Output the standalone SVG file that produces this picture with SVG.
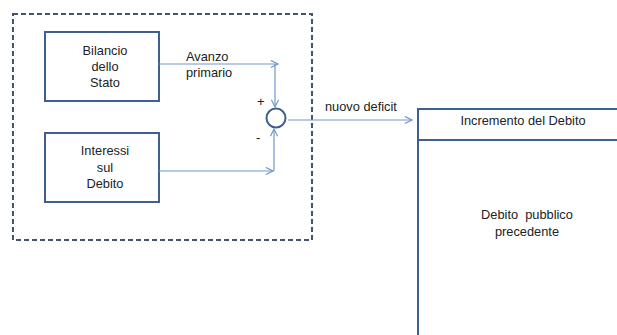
<svg xmlns="http://www.w3.org/2000/svg" width="617" height="335" viewBox="0 0 617 335">
<defs>
<style>
text{font-family:"Liberation Sans",Arial,sans-serif;font-size:12.8px;fill:#222}
.box{fill:#fff;stroke:#3F5F8F;stroke-width:2}
.conn{fill:none;stroke:#7397CB;stroke-width:1.2}
.c{text-anchor:middle}
</style>
<marker id="arr" viewBox="0 0 10 10" refX="9" refY="5" markerWidth="9" markerHeight="9" markerUnits="userSpaceOnUse" orient="auto">
<path d="M1,1 L9,5 L1,9" fill="none" stroke="#7397CB" stroke-width="1.3"/>
</marker>
</defs>
<rect x="0" y="0" width="617" height="335" fill="#fff"/>
<g id="frame">
<rect x="13" y="14" width="299" height="226" fill="none" stroke="#44546A" stroke-width="2" stroke-dasharray="5,3"/>
</g>
<g id="node-bilancio">
<rect class="box" x="45" y="32" width="114" height="69"/>
<text class="c" x="105" y="55">Bilancio</text>
<text class="c" x="105" y="71">dello</text>
<text class="c" x="105" y="87">Stato</text>
</g>
<g id="node-interessi">
<rect class="box" x="45" y="133" width="114" height="69"/>
<text class="c" x="105" y="155">Interessi</text>
<text class="c" x="105" y="172">sul</text>
<text class="c" x="105" y="188">Debito</text>
</g>
<g id="node-sum">
<circle cx="276" cy="118" r="9.5" fill="#fff" stroke="#3F5F8F" stroke-width="2"/>
<text x="257" y="106" style="font-size:13px">+</text>
<text x="256" y="142" style="font-size:13px">-</text>
</g>
<g id="node-debito">
<rect class="box" x="418" y="109" width="220" height="240"/>
<line x1="418" y1="140" x2="617" y2="140" stroke="#3F5F8F" stroke-width="2"/>
<text class="c" x="523" y="125">Incremento del Debito</text>
<text class="c" x="527" y="219" xml:space="preserve">Debito  pubblico</text>
<text class="c" x="527" y="236">precedente</text>
</g>
<g id="connectors">
<path class="conn" d="M159,64 H278" marker-end="url(#arr)"/>
<path class="conn" d="M275,64 V107" marker-end="url(#arr)"/>
<path class="conn" d="M159,171 H273" marker-end="url(#arr)"/>
<path class="conn" d="M274,171 V129" marker-end="url(#arr)"/>
<path class="conn" d="M288,120 H412" marker-end="url(#arr)"/>
<text x="186" y="61">Avanzo</text>
<text x="186" y="77">primario</text>
<text x="325" y="111">nuovo deficit</text>
</g>
</svg>
